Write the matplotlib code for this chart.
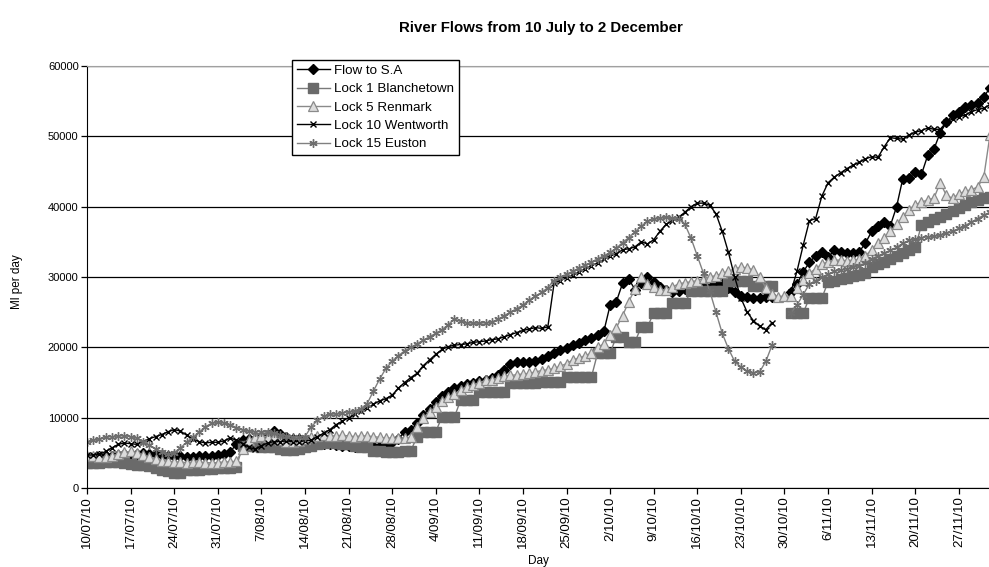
import matplotlib
matplotlib.use("Agg")
import matplotlib.pyplot as plt
import numpy as np
import pandas as pd

nan = np.nan

# daily flows, 10 July to 2 December 2010 (Ml per day)
dates = pd.date_range("2010-07-10", "2010-12-02", freq="D")

flow_sa = [
    4000, 4300, 4500, 4600, 4600, 4700, 4800, 4800, 4900, 5000,
    4900, 4800, 4700, 4600, 4500, 4500, 4400, 4400, 4500, 4500,
    4600, 4700, 4800, 5100, 6300, 6800, 6900, 7000, 7200, 7600,
    8100, 7700, 7300, 7000, 6900, 6700, 6500, 6400, 6300, 6200,
    6100, 6000, 6000, 5900, 5900, 5900, 6000, 6000, 6100, 6500,
    7000, 8000, 8200, 9200, 10400, 11300, 12200, 13100, 13700, 14200,
    14500, 14800, 15000, 15200, 15400, 15600, 16000, 16800, 17600, 17900,
    17900, 17900, 18000, 18300, 18700, 19200, 19600, 19900, 20300, 20600,
    21000, 21300, 21700, 22300, 26000, 26500, 29100, 29700, 28200, 29200,
    30000, 29300, 28600, 28200, 27900, 28000, 28300, 28500, 28700, 28900,
    29100, 29200, 29000, 28500, 27800, 27300, 27200, 27000, 27000, 27100,
    27200, nan, nan, 27900, 29000, 30700, 32100, 33000, 33500, 32800,
    33800, 33500, 33400, 33400, 33600, 34800, 36500, 37300, 37800, 37300,
    40000, 44000, 44100, 44900, 44600, 47300, 48200, 50500, 52000, 53000,
    53500, 54100, 54500, 54800, 55600, 56900,
]

lock1 = [
    3500, 3500, 3600, 3700, 3700, 3700, 3600, 3400, 3300, 3300,
    3100, 2800, 2600, 2400, 2100, 2100, 2500, 2600, 2600, 2700,
    2700, 2800, 2800, 2900, 3000, 6000, 6000, 6000, 5900, 5800,
    5800, 5500, 5400, 5400, 5500, 5800, 6000, 6300, 6400, 6500,
    6400, 6300, 6200, 6000, 5900, 5800, 5300, 5200, 5100, 5100,
    5100, 5200, 5300, 7300, 8000, 8000, 8000, 10100, 10100, 10100,
    12500, 12500, 12500, 13700, 13700, 13700, 13700, 13700, 14900, 14900,
    14900, 14900, 14900, 15100, 15100, 15100, 15100, 15800, 15800, 15800,
    15800, 15800, 19200, 19200, 19200, 21500, 21500, 20800, 20800, 22900,
    22900, 24900, 24900, 24900, 26300, 26300, 26300, 28000, 28000, 28000,
    28000, 28000, 28000, 29400, 29400, 29400, 29400, 28700, 28700, 28700,
    28700, nan, nan, 24900, 24900, 24900, 27000, 27000, 27000, 29300,
    29500, 29700, 29900, 30100, 30300, 30500, 31400, 31800, 32200, 32600,
    33000, 33400, 33800, 34200, 37400, 37800, 38200, 38600, 39000, 39400,
    39800, 40200, 40600, 41000, 41200, 41400,
]

lock5 = [
    4600, 4500, 4400, 4400, 4500, 4800, 5100, 5200, 5000, 4700,
    4400, 4100, 3900, 3800, 3700, 3700, 3600, 3700, 3700, 3600,
    3600, 3600, 3700, 3700, 3800, 5500, 6800, 7200, 7400, 7300,
    7200, 6800, 6600, 6500, 6700, 7000, 7300, 7400, 7500, 7400,
    7400, 7500, 7400, 7300, 7400, 7400, 7300, 7200, 7100, 7100,
    7100, 7100, 7200, 8700, 10000, 10800, 11500, 12400, 12900, 13300,
    14000, 14400, 14600, 15000, 15300, 15400, 15600, 15900, 16000, 16100,
    16200, 16300, 16500, 16700, 16800, 17000, 17300, 17700, 18200, 18500,
    18800, 19200, 20000, 20500, 21800, 22800, 24500, 26500, 28300, 30000,
    29000, 28600, 28200, 28200, 28600, 29000, 29200, 29300, 29500, 29800,
    30000, 30200, 30500, 30800, 31200, 31400, 31300, 31000, 30000, 28500,
    27600, 27200, 27300, 27300, 28500, 29600, 30500, 31200, 31800, 32200,
    32400, 32400, 32300, 32400, 32500, 33000, 33900, 34800, 35500, 36500,
    37500, 38500, 39500, 40300, 40600, 41000, 41200, 43400, 41600, 41200,
    41800, 42200, 42400, 42800, 44200, 50200,
]

lock10 = [
    4700, 4700, 4800, 5200, 5700, 6200, 6400, 6300, 6200, 6500,
    7000, 7300, 7600, 8000, 8300, 8100, 7500, 7000, 6600, 6400,
    6500, 6500, 6700, 7100, 6800, 6300, 5800, 5500, 6000, 6400,
    6600, 6600, 6700, 6600, 6600, 6700, 6800, 7300, 7800, 8300,
    9000, 9500, 10000, 10500, 11000, 11400, 11900, 12400, 12700, 13200,
    14200, 15000, 15700, 16300, 17400, 18200, 19000, 19700, 20100, 20300,
    20400, 20500, 20700, 20800, 20900, 21100, 21200, 21500, 21800, 22100,
    22400, 22600, 22800, 22700, 22900, 29100, 29500, 29900, 30300, 30700,
    31200, 31600, 32000, 32500, 33000, 33300, 33900, 34000, 34300, 35000,
    34700, 35300, 36500, 37500, 38000, 38500, 39200, 40000, 40500, 40500,
    40200, 39000, 36500, 33500, 30000, 27000, 25000, 23800, 23000, 22500,
    23500, nan, nan, 27800, 30800, 34500, 38000, 38300, 41500, 43400,
    44200, 44800, 45400, 45900, 46300, 46800, 47100, 47000, 48500, 49800,
    49700, 49600, 50200, 50600, 50800, 51200, 51000, 51000, 52000, 52500,
    52800, 53000, 53500, 53800, 54000, 54500,
]

lock15 = [
    6600, 6800, 7000, 7200, 7300, 7400, 7400, 7300, 7100, 6600,
    6100, 5600, 5100, 4900, 5000, 5700, 6500, 7200, 7900, 8700,
    9200, 9400, 9300, 9000, 8600, 8300, 8100, 8000, 8000, 7900,
    7800, 7600, 7400, 7200, 7200, 7300, 8700, 9600, 10200, 10500,
    10500, 10700, 10800, 11000, 11300, 12000, 13800, 15500, 17000, 18000,
    18800, 19500, 20000, 20500, 21000, 21500, 22000, 22500, 23200, 24000,
    23700, 23500, 23400, 23400, 23500, 23600, 24000, 24500, 25000, 25500,
    26000, 26700, 27300, 27800, 28500, 29500, 30000, 30400, 30800, 31300,
    31700, 32100, 32600, 33000, 33500, 34100, 34900, 35600, 36400, 37200,
    37900, 38300, 38400, 38500, 38400, 38300, 37500, 35500, 33000, 30500,
    28000, 25000, 22000, 19800, 18000, 17200, 16600, 16400, 16500, 18000,
    20300, nan, nan, 24900, 26000, 27500, 29000, 29500, 30000, 30400,
    30800, 31000, 31200, 31400, 31600, 32000, 32600, 33000, 33400, 33800,
    34200, 34800, 35200, 35400, 35600, 35700, 35800, 36000, 36200, 36500,
    36900, 37300, 37800, 38300, 38800, 39200,
]

series_names = ["Flow to S.A", "Lock 1 Blanchetown", "Lock 5 Renmark",
                "Lock 10 Wentworth", "Lock 15 Euston"]

plt.rcParams["font.family"] = ["Liberation Sans", "DejaVu Sans"]

fig = plt.figure(figsize=(9.89, 5.67), dpi=100)
ax = fig.add_axes([87 / 989, 79 / 567, 903 / 989, 422 / 567])

days = np.arange(len(dates))

styles = [
    dict(color="black", marker="D", markersize=4.6, markerfacecolor="black",
         markeredgecolor="black"),
    dict(color="#7a7a7a", marker="s", markersize=7, markerfacecolor="#6a6a6a",
         markeredgecolor="#6a6a6a"),
    dict(color="#8a8a8a", marker="^", markersize=6.5, markerfacecolor="#dcdcdc",
         markeredgecolor="#8a8a8a", markeredgewidth=0.9),
    dict(color="black", marker="x", markersize=5, markeredgewidth=1.0),
    dict(color="#808080", marker=(6, 2, 0), markersize=6, markeredgewidth=1.0,
         markeredgecolor="#6e6e6e"),
]

handles = []
for vals, name, st in zip([flow_sa, lock1, lock5, lock10, lock15], series_names, styles):
    h, = ax.plot(days, vals, lw=1, label=name, **st)
    handles.append(h)

ax.set_xlim(0, len(dates) - 1)
ax.set_ylim(0, 60000)
ax.set_yticks(range(0, 60001, 10000))
ax.set_yticklabels([str(v) for v in range(0, 60001, 10000)], fontsize=8)

tick_days = days[::7]
tick_labels = [f"{d.day}/{d.month:02d}/{d.year % 100}" for d in dates[::7]]
ax.set_xticks(tick_days)
ax.set_xticklabels(tick_labels, rotation=90, fontsize=9.5)

ax.set_axisbelow(True)
ax.yaxis.grid(True, color="black", lw=0.9)
ax.spines["right"].set_visible(False)
ax.spines["top"].set_color("#a0a0a0")
ax.spines["left"].set_color("black")
ax.spines["bottom"].set_color("black")
ax.tick_params(direction="out", length=4, width=0.9, pad=2)

fig.text(541 / 989, 1 - 28 / 567, "River Flows from 10 July to 2 December",
         ha="center", va="center", fontsize=10.8, fontweight="bold")
fig.text(17 / 989, 1 - 282 / 567, "Ml per day", rotation=90,
         ha="center", va="center", fontsize=8.5)
fig.text(538 / 989, 1 - 561 / 567, "Day", ha="center", va="center", fontsize=8.5)

leg = fig.legend(handles, series_names, loc="upper left",
                 bbox_to_anchor=(292 / 989, 1 - 60 / 567), fontsize=9.6,
                 frameon=True, fancybox=False, edgecolor="black", framealpha=1,
                 handlelength=2.5, handletextpad=0.3, labelspacing=0.45,
                 borderpad=0.35, borderaxespad=0)
leg.get_frame().set_linewidth(1.0)

fig.savefig("out.png", dpi=100)
